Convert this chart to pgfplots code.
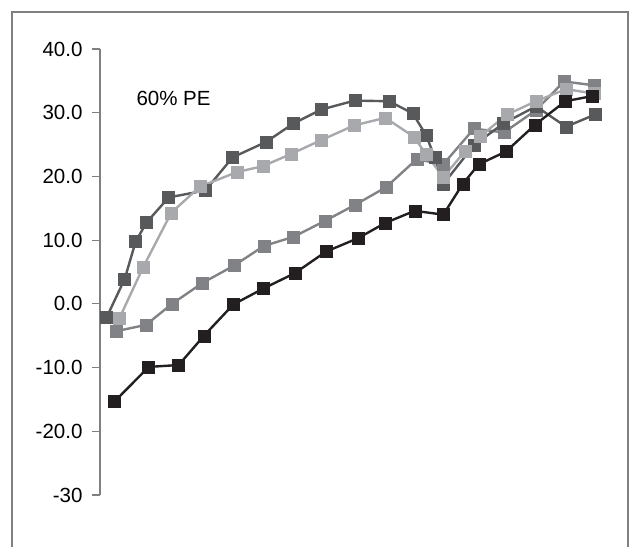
\documentclass[border=0pt]{standalone}
\usepackage{pgfplots}
\pgfplotsset{compat=1.18}
\usepackage{fontspec}
\setmainfont{Liberation Sans}

\definecolor{serA}{HTML}{58595B}
\definecolor{serB}{HTML}{A7A9AC}
\definecolor{serC}{HTML}{808285}
\definecolor{serD}{HTML}{231F20}
\definecolor{axgray}{HTML}{808080}

\begin{document}
\begin{tikzpicture}
\begin{axis}[
  scale only axis,
  width=500pt, height=446pt,
  xmin=100, xmax=600,
  ymin=-30, ymax=40,
  clip=false,
  axis y line*=left,
  axis x line=none,
  axis line style={axgray, line width=1.2pt},
  ytick={-30,-20,-10,0,10,20,30,40},
  yticklabels={-30,-20.0,-10.0,0.0,10.0,20.0,30.0,40.0},
  tick align=outside,
  major tick length=8pt,
  tick style={axgray, line width=1.2pt},
  yticklabel style={font=\fontsize{20.5}{24}\selectfont, text=black, xshift=-6pt},
  /pgf/number format/assume math mode=true,
  every axis plot/.append style={line width=2.4pt, mark=square*, mark size=6pt},
]
% outer frame, open at the bottom
\draw[axgray, line width=1.2pt] (axis cs:12,-38.16) -- (axis cs:12,45.81) -- (axis cs:628,45.81) -- (axis cs:628,-38.16);
\path (axis cs:0,-38.16) rectangle (axis cs:632,47.69);

\node[anchor=west, font=\fontsize{20.5}{24}\selectfont] at (axis cs:133,32.3) {60\% PE};

% medium grey series
\addplot[color=serC, mark options={fill=serC, draw=serC, line width=0.4pt}] coordinates {
(116,-4.3) (146,-3.3) (172,0.0) (202.7,3.3) (234,6.0) (264,9.1) (293.3,10.5)
(324.7,13.0) (354.7,15.5) (386,18.3) (416.7,22.7) (443.3,21.9) (474,27.5)
(504,26.9) (536,30.4) (564,34.9) (594,34.3)
};
% dark grey series
\addplot[color=serA, mark options={fill=serA, draw=serA, line width=0.4pt}] coordinates {
(106.7,-2.1) (124.7,3.9) (135.7,9.8) (146.7,12.8) (168.7,16.7) (205.3,17.8)
(232.7,23.0) (266,25.4) (293.3,28.3) (321.3,30.5) (354.7,31.9) (389,31.8)
(412.7,29.9) (426,26.5) (434.7,23.0) (443.3,18.8) (474,24.9) (503.3,28.3)
(536,31.0) (566,27.8) (595,29.7)
};
% light grey series
\addplot[color=serB, mark options={fill=serB, draw=serB, line width=0.4pt}] coordinates {
(119.3,-2.3) (143.3,5.8) (171.3,14.3) (200,18.4) (237.3,20.7) (262.7,21.6)
(290.7,23.5) (321.3,25.7) (354,28.0) (385.3,29.2) (414,26.2) (426,23.5)
(443.3,19.9) (465.3,24.0) (480,26.3) (507,29.7) (536,31.8) (566,33.7) (594,33.0)
};
% black series
\addplot[color=serD, mark options={fill=serD, draw=serD, line width=0.4pt}] coordinates {
(114.7,-15.3) (148.7,-9.9) (178.7,-9.6) (204,-5.0) (233.3,-0.1) (263.3,2.4)
(294.7,4.8) (326,8.2) (358,10.3) (385.3,12.7) (414.7,14.6) (443.3,14.0)
(462.7,18.8) (478.7,21.9) (506,23.9) (535,28.1) (565.3,31.8) (592,32.6)
};
\end{axis}
\end{tikzpicture}
\end{document}
